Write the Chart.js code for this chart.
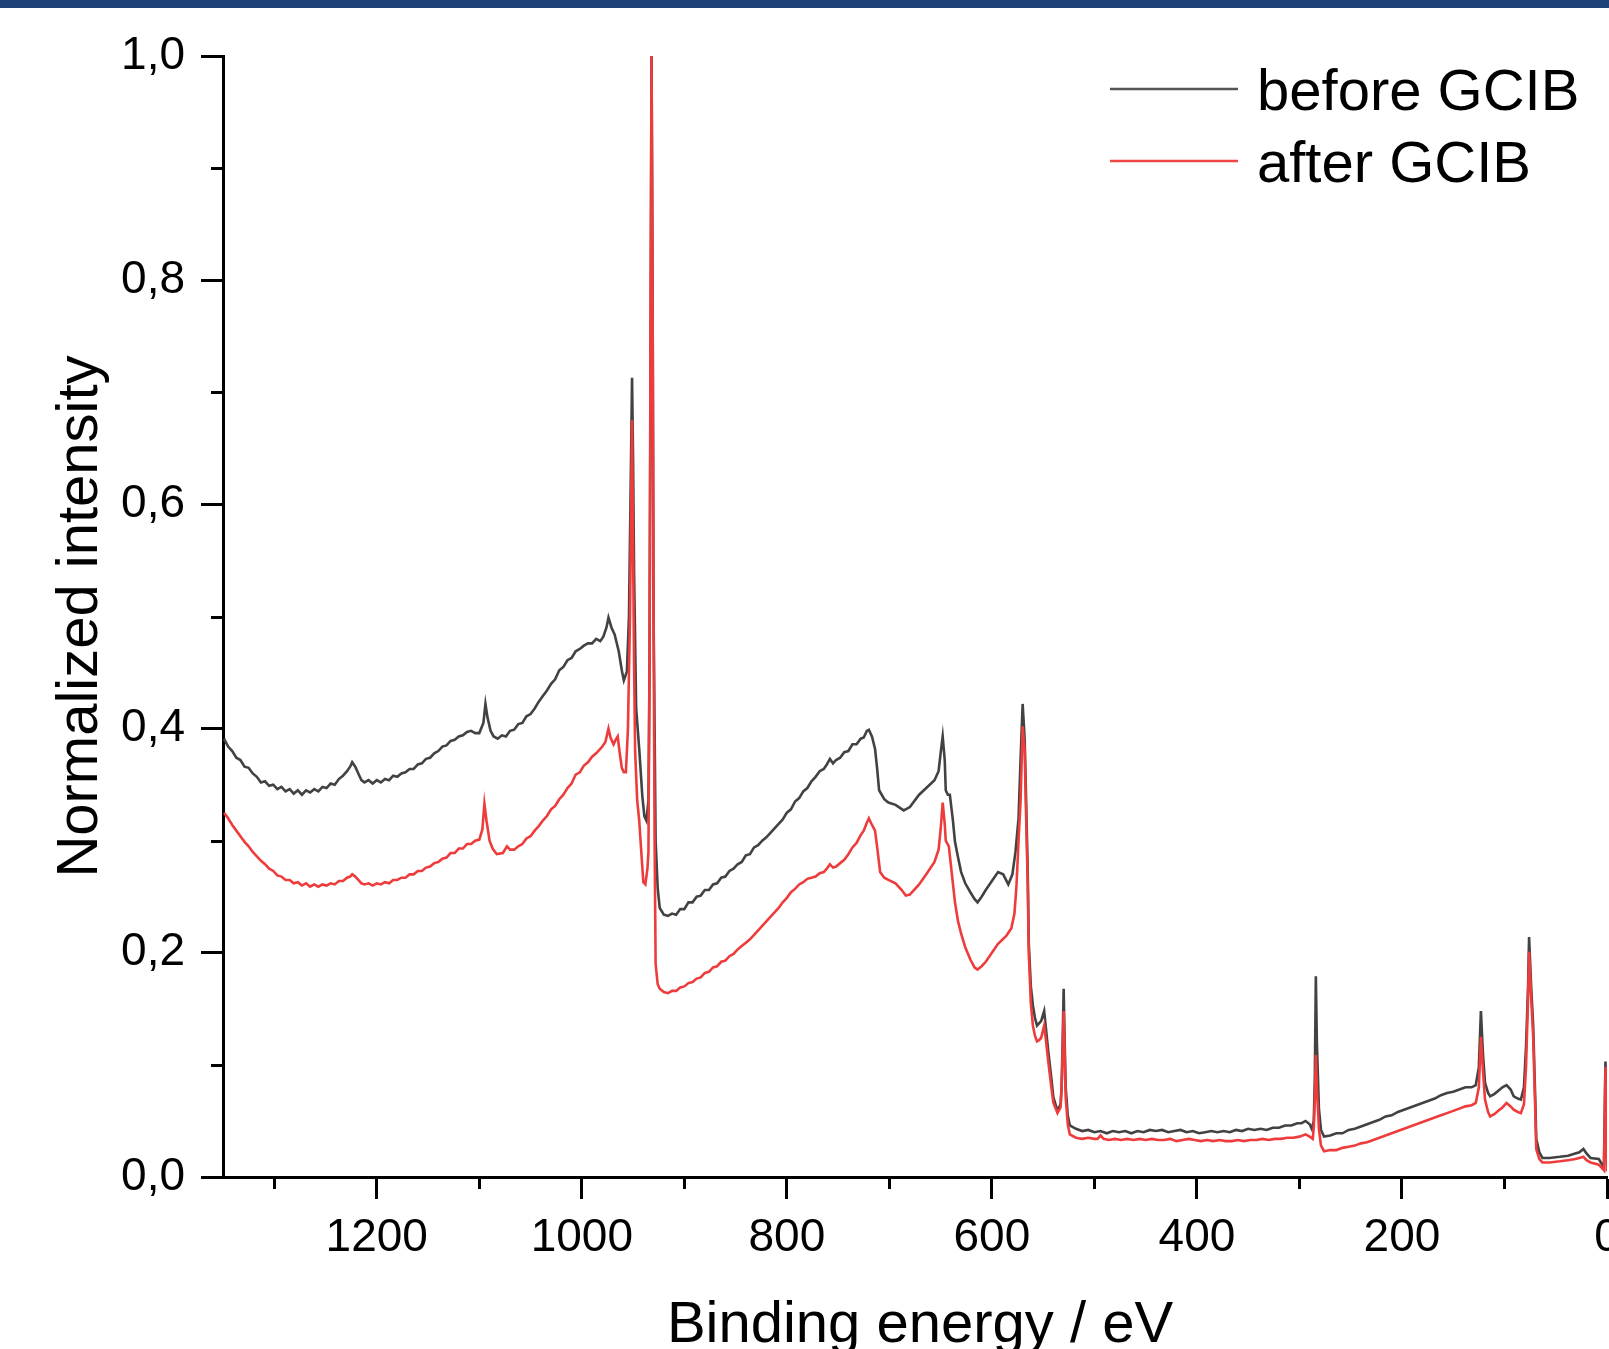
<!DOCTYPE html>
<html><head><meta charset="utf-8">
<script src="https://cdn.jsdelivr.net/npm/chart.js@4.4.1/dist/chart.umd.min.js"></script>
<style>
html,body{margin:0;padding:0;background:#fff;}
#wrap{position:relative;width:1609px;height:1349px;overflow:hidden;background:#fff;}
#bar{position:absolute;left:0;top:0;width:1609px;height:8px;background:#1f4278;}
canvas{position:absolute;left:0;top:0;}
</style></head><body>
<div id="wrap"><canvas id="c" width="1609" height="1349"></canvas><div id="bar"></div></div>
<script>
const seriesLabels = ['before GCIB', 'after GCIB'];
const xTitle = 'Binding energy / eV';
const yTitle = 'Normalized intensity';
const xMajorTicks = [0, 200, 400, 600, 800, 1000, 1200];
const xMinorTicks = [100, 300, 500, 700, 900, 1100, 1300];
const yMajorTicks = [0, 0.2, 0.4, 0.6, 0.8, 1.0];
const yMinorTicks = [0.1, 0.3, 0.5, 0.7, 0.9];

const beforeEnergy = [1349,1345,1341,1337,1333,1329,1325,1321,1317,1313,1309,1305,1301,1297,1293,1289,1285,1281,1277,1273,1269,1265,1261,1257,1253,1249,1245,1241,1237,1233,1229,1226,1224,1221,1218,1215,1212,1208,1204,1200,1196,1192,1188,1184,1180,1176,1172,1168,1164,1160,1156,1152,1148,1144,1140,1136,1132,1128,1124,1120,1116,1112,1108,1104,1100,
1096,1094,1092,1089,1086,1082,1078,1074,1070,1066,1062,1058,1054,1050,1046,1042,1038,1034,1030,1026,1022,1018,1014,1010,1006,1002,998,994,990,986,982,979,
976,974,971,968,964,961,959,956,954,952,951,950,949,947,944,941,939,937,935,934,933,932,931,930,928,926,924,
920,916,912,908,904,900,896,892,888,884,880,876,872,868,864,860,856,852,848,844,840,836,832,828,824,820,816,812,808,804,800,796,792,788,784,780,776,772,768,764,761,758,755,752,748,744,740,736,732,728,725,722,720,
717,714,712,710,705,701,694,686,680,671,664,656,652,650,648,646,645,643,641,638,636,633,630,626,621,617,614,610,606,600,594,589,584,580,577,574,572,570,568,567,565,564,562,560,558,556,554,552,549,547,545,542,540,536,533,532,531,530,529,528,526,524,
518,512,506,500,494,488,482,476,470,464,458,452,446,440,434,428,422,416,410,404,398,392,386,380,374,368,362,356,350,344,338,332,326,320,314,308,302,298,294,290,
288,286,285,284,283,281,279,276,
270,264,258,252,246,240,234,228,222,216,210,204,198,192,186,180,174,168,162,156,150,144,138,132,128,
125,123,121,119,116,114,110,106,102,98,94,91,87,84,81,79,77,76,74,72,70,69,66,63,56,46,38,31,27,23,20,16,8,4,3,1.5,0.5,0];
const beforeIntensity = [.391,.384,.380,.374,.372,.366,.365,.360,.357,.352,.353,.349,.350,.346,.348,.344,.346,.342,.345,.341,.345,.343,.346,.344,.348,.347,.351,.350,.355,.358,.362,.366,.370,.366,.360,.354,.352,.354,.351,.354,.352,.355,.354,.358,.357,.360,.361,.364,.364,.368,.369,.373,.374,.378,.380,.384,.385,.389,.390,.393,.394,.397,.398,.396,.396,
.405,.422,.410,.398,.393,.391,.394,.393,.398,.399,.404,.405,.411,.413,.418,.424,.429,.434,.440,.444,.452,.455,.461,.463,.469,.471,.474,.476,.476,.480,.478,.482,
.490,.499,.490,.484,.469,.452,.443,.451,.500,.640,.713,.640,.538,.418,.382,.340,.322,.318,.336,.450,.700,1.0,.800,.500,.300,.258,.240,
.234,.233,.235,.234,.239,.239,.245,.245,.250,.251,.256,.256,.261,.262,.267,.268,.273,.275,.279,.281,.287,.288,.294,.296,.300,.303,.307,.311,.315,.319,.325,.328,.335,.338,.344,.347,.353,.357,.362,.364,.368,.373,.369,.372,.374,.379,.380,.386,.386,.391,.392,.398,.399,
.393,.382,.365,.345,.337,.334,.332,.327,.330,.341,.347,.354,.362,.378,.393,.372,.345,.341,.341,.318,.299,.285,.272,.262,.254,.248,.245,.250,.256,.264,.272,.270,.261,.270,.290,.320,.373,.422,.390,.352,.270,.208,.170,.153,.142,.135,.137,.139,.148,.130,.112,.088,.071,.059,.065,.080,.120,.168,.120,.080,.055,.046,
.043,.041,.042,.040,.041,.039,.041,.040,.041,.039,.041,.040,.042,.041,.042,.040,.041,.042,.040,.041,.039,.040,.041,.040,.041,.040,.042,.041,.043,.042,.043,.042,.044,.044,.046,.046,.048,.048,.050,.047,
.043,.050,.089,.179,.120,.061,.042,.036,
.037,.039,.039,.042,.043,.045,.047,.049,.051,.054,.055,.058,.060,.062,.064,.066,.068,.070,.073,.075,.076,.078,.080,.080,.082,
.098,.148,.110,.084,.075,.072,.074,.077,.080,.082,.078,.072,.070,.069,.080,.116,.170,.214,.170,.135,.070,.034,.022,.017,.017,.018,.019,.021,.022,.025,.021,.017,.016,.010,.008,.103,.060,.040];

const afterEnergy = [1349,1345,1341,1337,1333,1329,1325,1321,1317,1313,1309,1305,1301,1297,1293,1289,1285,1281,1277,1273,1269,1265,1261,1257,1253,1249,1245,1241,1237,1233,1229,1226,1224,1221,1218,1215,1212,1208,1204,1200,1196,1192,1188,1184,1180,1176,1172,1168,1164,1160,1156,1152,1148,1144,1140,1136,1132,1128,1124,1120,1116,1112,1108,1104,1100,
1097,1095,1093,1090,1087,1083,1077,1073,1070,1066,1062,1058,1054,1050,1046,1042,1038,1034,1030,1026,1022,1018,1014,1010,1006,1002,998,994,990,986,982,980,977,
974,972,969,967,965,963,961,959,957,955,953,951,950,949,948,946,944,942,940,938,936,935,934,933,932,931,930,929,928,926,924,
920,916,912,908,904,900,896,892,888,884,880,876,872,868,864,860,856,852,848,844,840,836,832,828,824,820,816,812,808,804,800,796,792,788,784,780,776,772,768,764,761,758,755,752,748,744,740,736,732,728,725,722,720,
718,714,712,709,705,701,694,688,684,680,671,664,656,652,650,648,646,645,642,639,636,633,630,626,621,617,614,610,606,600,594,586,581,578,576,574,572,570,568,567,565,564,562,560,558,556,554,552,549,547,545,542,540,536,533,532,531,530,529,528,526,524,
518,512,506,500,497,494,491,486,480,474,468,462,456,450,444,438,432,426,420,414,408,402,396,390,384,378,372,366,360,354,348,342,336,330,324,318,312,306,300,294,290,287,
286,285,284,283,281,279,276,
270,264,258,252,246,240,234,228,222,216,210,204,198,192,186,180,174,168,162,156,150,144,138,132,128,
125,123,121,119,116,114,110,106,102,98,94,91,87,84,81,79,77,76,74,72,70,69,66,63,56,46,38,31,27,23,20,16,8,4,3,1.5,0.5,0];
const afterIntensity = [.325,.320,.314,.309,.304,.299,.295,.290,.286,.282,.279,.275,.273,.269,.268,.265,.265,.262,.263,.260,.262,.259,.261,.259,.261,.260,.262,.261,.264,.264,.267,.268,.270,.268,.265,.262,.261,.262,.260,.262,.261,.263,.262,.265,.265,.267,.267,.270,.270,.273,.273,.276,.277,.280,.281,.284,.285,.289,.289,.293,.293,.297,.297,.300,.301,
.310,.333,.318,.300,.293,.288,.289,.295,.292,.292,.295,.297,.302,.304,.309,.313,.318,.322,.328,.331,.337,.341,.347,.351,.359,.361,.367,.370,.375,.378,.382,.384,.388,
.400,.392,.386,.390,.393,.378,.365,.361,.361,.400,.500,.675,.560,.455,.380,.336,.318,.290,.263,.261,.275,.290,.450,.750,1.0,.800,.500,.300,.190,.172,.168,
.165,.164,.166,.166,.169,.170,.173,.174,.177,.178,.182,.183,.187,.188,.192,.193,.197,.199,.203,.206,.209,.212,.216,.220,.224,.228,.232,.236,.240,.245,.249,.254,.257,.261,.263,.266,.267,.268,.271,.272,.275,.279,.276,.277,.280,.283,.288,.294,.298,.305,.309,.316,.320,
.316,.309,.295,.272,.267,.265,.262,.256,.251,.252,.261,.270,.281,.292,.310,.334,.315,.300,.295,.270,.245,.228,.217,.205,.194,.187,.185,.188,.192,.200,.208,.215,.222,.235,.260,.300,.336,.402,.380,.336,.260,.199,.155,.135,.126,.121,.122,.124,.135,.120,.103,.080,.066,.057,.062,.080,.110,.148,.110,.071,.047,.038,
.035,.034,.035,.034,.034,.037,.034,.033,.034,.033,.034,.033,.034,.033,.034,.033,.033,.034,.032,.033,.034,.033,.032,.033,.032,.033,.032,.032,.033,.032,.033,.033,.034,.033,.034,.034,.035,.035,.036,.038,.036,.034,
.045,.070,.109,.080,.043,.028,.023,
.024,.024,.026,.027,.028,.030,.031,.033,.035,.037,.039,.041,.043,.045,.047,.049,.051,.053,.055,.057,.059,.061,.063,.064,.066,
.080,.125,.095,.069,.058,.054,.056,.059,.062,.066,.063,.060,.058,.057,.065,.098,.160,.201,.160,.125,.060,.025,.016,.013,.013,.014,.015,.016,.017,.018,.015,.013,.011,.007,.006,.098,.030,.005];

const lineColors = ['#424242', '#ee3c3c'];
const legendColors = ['#555555', '#ef4545'];
const FONT = '"Liberation Sans", Arial, Helvetica, sans-serif';
const toPts = (xs, ys) => xs.map((x, i) => ({x: x, y: ys[i]}));

const decor = {
  id: 'decor',
  afterDraw(chart) {
    const {ctx, chartArea: a, scales: {x, y}} = chart;
    ctx.save();
    ctx.strokeStyle = '#000';
    ctx.lineWidth = 3;
    ctx.beginPath();
    xMinorTicks.forEach(v => { const p = Math.round(x.getPixelForValue(v)) + 0.5; ctx.moveTo(p, a.bottom); ctx.lineTo(p, a.bottom + 12); });
    yMinorTicks.forEach(v => { const p = Math.round(y.getPixelForValue(v)) + 0.5; ctx.moveTo(a.left, p); ctx.lineTo(a.left - 12, p); });
    ctx.stroke();
    ctx.fillStyle = '#000';
    ctx.font = '58px ' + FONT;
    ctx.textAlign = 'center';
    ctx.textBaseline = 'alphabetic';
    ctx.fillText(xTitle, (a.left + a.right) / 2 + 5, 1342);
    ctx.save();
    ctx.translate(97, (a.top + a.bottom) / 2);
    ctx.rotate(-Math.PI / 2);
    ctx.fillText(yTitle, 0, 0);
    ctx.restore();
    chart.data.datasets.forEach((ds, i) => {
      const ly = 89 + i * 72;
      ctx.strokeStyle = legendColors[i];
      ctx.lineWidth = 2.5;
      ctx.beginPath(); ctx.moveTo(1110, ly); ctx.lineTo(1238, ly); ctx.stroke();
      ctx.textAlign = 'left';
      ctx.fillText(ds.label, 1257, ly + 21);
    });
    ctx.restore();
  }
};

new Chart(document.getElementById('c').getContext('2d'), {
  type: 'line',
  data: {
    datasets: [
      {label: seriesLabels[0], data: toPts(beforeEnergy, beforeIntensity), borderColor: lineColors[0], borderWidth: 2.6, pointRadius: 0, tension: 0, fill: false, order: 1},
      {label: seriesLabels[1], data: toPts(afterEnergy, afterIntensity), borderColor: lineColors[1], borderWidth: 2.6, pointRadius: 0, tension: 0, fill: false, order: 0}
    ]
  },
  options: {
    responsive: false,
    animation: false,
    devicePixelRatio: 1,
    layout: {padding: {left: 0, top: 56, right: 2, bottom: 0}},
    plugins: {legend: {display: false}, tooltip: {enabled: false}},
    scales: {
      x: {
        type: 'linear', reverse: true, min: 0, max: 1350, position: 'bottom',
        afterBuildTicks: s => { s.ticks = xMajorTicks.map(v => ({value: v})); },
        afterFit: s => { s.height = 172; s.paddingLeft = 0; s.paddingRight = 0; },
        grid: {drawOnChartArea: false, drawTicks: true, tickLength: 22, tickWidth: 3, tickColor: '#000'},
        border: {display: true, color: '#000', width: 3},
        ticks: {autoSkip: false, maxRotation: 0, minRotation: 0, padding: 12, color: '#000', font: {family: FONT, size: 46}, callback: v => String(v)}
      },
      y: {
        type: 'linear', min: 0, max: 1, position: 'left',
        afterBuildTicks: s => { s.ticks = yMajorTicks.map(v => ({value: v})); },
        afterFit: s => { s.width = 223; s.paddingTop = 0; s.paddingBottom = 0; },
        grid: {drawOnChartArea: false, drawTicks: true, tickLength: 22, tickWidth: 3, tickColor: '#000'},
        border: {display: true, color: '#000', width: 3},
        ticks: {autoSkip: false, padding: 16, color: '#000', font: {family: FONT, size: 46}, callback: v => Number(v).toFixed(1).replace('.', ',')}
      }
    }
  },
  plugins: [decor]
});
</script>
</body></html>
